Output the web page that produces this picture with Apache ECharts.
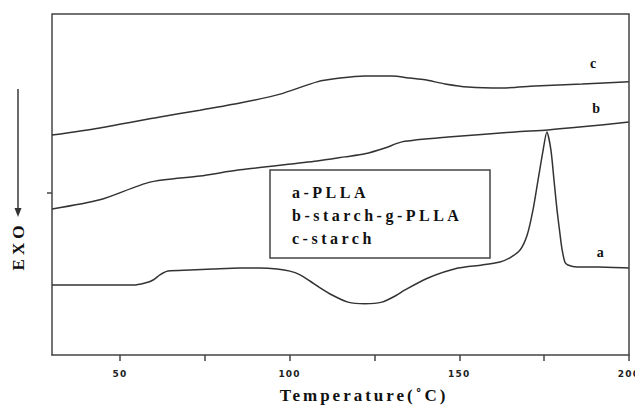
<!DOCTYPE html>
<html>
<head>
<meta charset="utf-8">
<script src="https://cdn.jsdelivr.net/npm/echarts@6/dist/echarts.min.js"></script>
<style>
  html, body { margin: 0; padding: 0; background: #fff; }
  #chart { width: 635px; height: 409px; }
</style>
</head>
<body>
<div id="chart"></div>
<script>
// DSC heating curves (arbitrary heat-flow units, exo down)
const aTemp = [30.0, 53.9, 57.4, 59.8, 61.8, 64.2, 70.7, 77.4, 85.4, 91.3, 96.3, 100.1, 103.1, 106.0, 109.0, 112.5, 117.2, 122.2, 127.2, 131.1, 134.0, 140.8, 149.6, 156.7, 162.0, 164.9, 167.9, 170.0, 171.7, 173.2, 174.7, 175.8, 177.0, 177.9, 178.8, 179.7, 180.3, 181.1, 182.0, 184.7, 190.9, 200.0];
const aHeat = [20.5, 20.5, 21.1, 22.0, 23.5, 24.6, 24.9, 25.2, 25.5, 25.5, 25.2, 24.6, 23.5, 21.7, 19.7, 17.6, 15.5, 15.0, 15.5, 17.3, 19.1, 22.6, 25.5, 26.4, 27.3, 28.5, 30.8, 35.2, 42.5, 51.3, 60.1, 65.4, 60.1, 51.3, 42.5, 35.2, 30.8, 27.3, 26.4, 25.8, 25.8, 25.5];

const bTemp = [30.0, 44.1, 58.9, 73.6, 85.4, 108.1, 116.3, 122.2, 128.1, 133.1, 146.7, 166.4, 176.1, 186.2, 200.0];
const bHeat = [42.8, 45.5, 50.7, 52.5, 54.3, 56.9, 58.1, 59.0, 60.7, 62.5, 63.9, 65.4, 66.0, 66.9, 68.3];

const cTemp = [30.0, 44.1, 61.8, 73.6, 85.4, 97.2, 108.1, 114.9, 122.2, 130.2, 135.5, 139.9, 145.8, 152.6, 162.6, 172.3, 186.2, 200.0];
const cHeat = [64.5, 66.6, 69.8, 71.8, 73.9, 76.5, 80.1, 81.2, 81.8, 81.8, 81.2, 80.7, 79.5, 78.6, 78.3, 78.9, 79.5, 80.1];

const curveTags = ['a', 'b', 'c'];
const legendLines = ['a-PLLA', 'b-starch-g-PLLA', 'c-starch'];
const xTickLabels = [50, 100, 150, 200];
const xTicks = [50, 75, 100, 125, 150, 175, 200];
const yTicks = [47.5];
const xTitle = 'Temperature(˚C)';
const yTitle = 'EXO';
// where each curve tag sits: [temperature, heat flow]
const tagAnchors = [[191.5, 30.2], [190.3, 72.4], [189.4, 85.6]];

const zip = (xs, ys) => xs.map((x, i) => [x, ys[i]]);

const ink = '#333';
const frame = '#444';
const serif = "'Liberation Serif', 'Times New Roman', serif";
const plot = { left: 52, right: 6, top: 14, bottom: 54 };
const W = 635, H = 409;
const pl = plot.left, pr = W - plot.right, pt = plot.top, pb = H - plot.bottom;

const chart = echarts.init(document.getElementById('chart'), null, { renderer: 'svg' });

function curve(name, xs, ys, tagIdx) {
  return {
    type: 'line',
    name: name,
    data: zip(xs, ys),
    showSymbol: false,
    smooth: 0.25,
    lineStyle: { color: ink, width: 1.5 },
    animation: false,
    markPoint: {
      symbol: 'circle',
      symbolSize: 0,
      data: [{ coord: tagAnchors[tagIdx] }],
      label: {
        show: true,
        formatter: curveTags[tagIdx],
        color: '#111',
        fontFamily: serif,
        fontWeight: 'bold',
        fontSize: 14,
        position: 'inside'
      }
    }
  };
}

chart.setOption({
  animation: false,
  backgroundColor: '#fff',
  grid: Object.assign({ outerBoundsMode: 'none', containLabel: false }, plot),
  xAxis: {
    type: 'value',
    min: 30, max: 200,
    axisLine: { show: true, onZero: false, lineStyle: { color: frame, width: 1.5 } },
    splitLine: { show: false },
    axisTick: { show: true, length: 6, customValues: xTicks, lineStyle: { color: frame, width: 1.5 } },
    axisLabel: {
      customValues: xTickLabels,
      color: '#222',
      fontFamily: "'DejaVu Sans', sans-serif",
      fontWeight: 'bold',
      fontSize: 9,
      margin: 14,
      hideOverlap: false,
      showMinLabel: true, showMaxLabel: true
    }
  },
  yAxis: {
    type: 'value',
    min: 0, max: 100,
    axisLine: { show: true, onZero: false, lineStyle: { color: frame, width: 1.5 } },
    splitLine: { show: false },
    axisTick: { show: true, inside: false, length: 5, customValues: yTicks, lineStyle: { color: frame, width: 1.5 } },
    axisLabel: { show: false, customValues: yTicks }
  },
  series: [
    curve('a-PLLA', aTemp, aHeat, 0),
    curve('b-starch-g-PLLA', bTemp, bHeat, 1),
    curve('c-starch', cTemp, cHeat, 2)
  ],
  graphic: [
    // top and right sides of the plot frame
    {
      type: 'polyline',
      shape: { points: [[pl, pt], [pr, pt], [pr, pb]] },
      style: { stroke: frame, lineWidth: 1.5, fill: null },
      silent: true,
      z: 5
    },
    // key box
    {
      type: 'rect',
      shape: { x: 270, y: 170, width: 220, height: 88 },
      style: { fill: '#fff', stroke: frame, lineWidth: 1.5 },
      z: 10
    },
    {
      type: 'text', x: 292, y: 192, z: 11,
      style: { text: legendLines[0], font: 'bold 16px ' + serif, fill: '#111', verticalAlign: 'middle' }
    },
    {
      type: 'text', x: 292, y: 215, z: 11,
      style: { text: legendLines[1], font: 'bold 16px ' + serif, fill: '#111', verticalAlign: 'middle' }
    },
    {
      type: 'text', x: 292, y: 238, z: 11,
      style: { text: legendLines[2], font: 'bold 16px ' + serif, fill: '#111', verticalAlign: 'middle' }
    },
    // y-axis caption with its arrow
    {
      type: 'line',
      shape: { x1: 18, y1: 89, x2: 18, y2: 210 },
      style: { stroke: frame, lineWidth: 1.6 }
    },
    {
      type: 'polygon',
      shape: { points: [[14.5, 208], [21.5, 208], [18, 217]] },
      style: { fill: '#333' }
    },
    {
      type: 'text',
      x: 18, y: 246,
      rotation: Math.PI / 2,
      style: {
        text: yTitle,
        font: 'bold 17px ' + serif,
        fill: '#111',
        align: 'center',
        verticalAlign: 'middle'
      }
    },
    // x-axis caption
    {
      type: 'text',
      x: 364, y: 395,
      style: {
        text: xTitle,
        font: 'bold 17px ' + serif,
        fill: '#111',
        align: 'center',
        verticalAlign: 'middle'
      }
    }
  ]
});

// the figure's typesetting spreads its glyphs; widen the tracking per text
const tracking = {};
legendLines.forEach(t => { tracking[t] = '3.5px'; });
tracking[xTitle] = '3px';
tracking[yTitle] = '4px';
xTickLabels.forEach(v => { tracking[String(v)] = '1.2px'; });
document.querySelectorAll('#chart svg text').forEach(el => {
  const s = tracking[el.textContent];
  if (s) el.style.letterSpacing = s;
});
</script>
</body>
</html>
